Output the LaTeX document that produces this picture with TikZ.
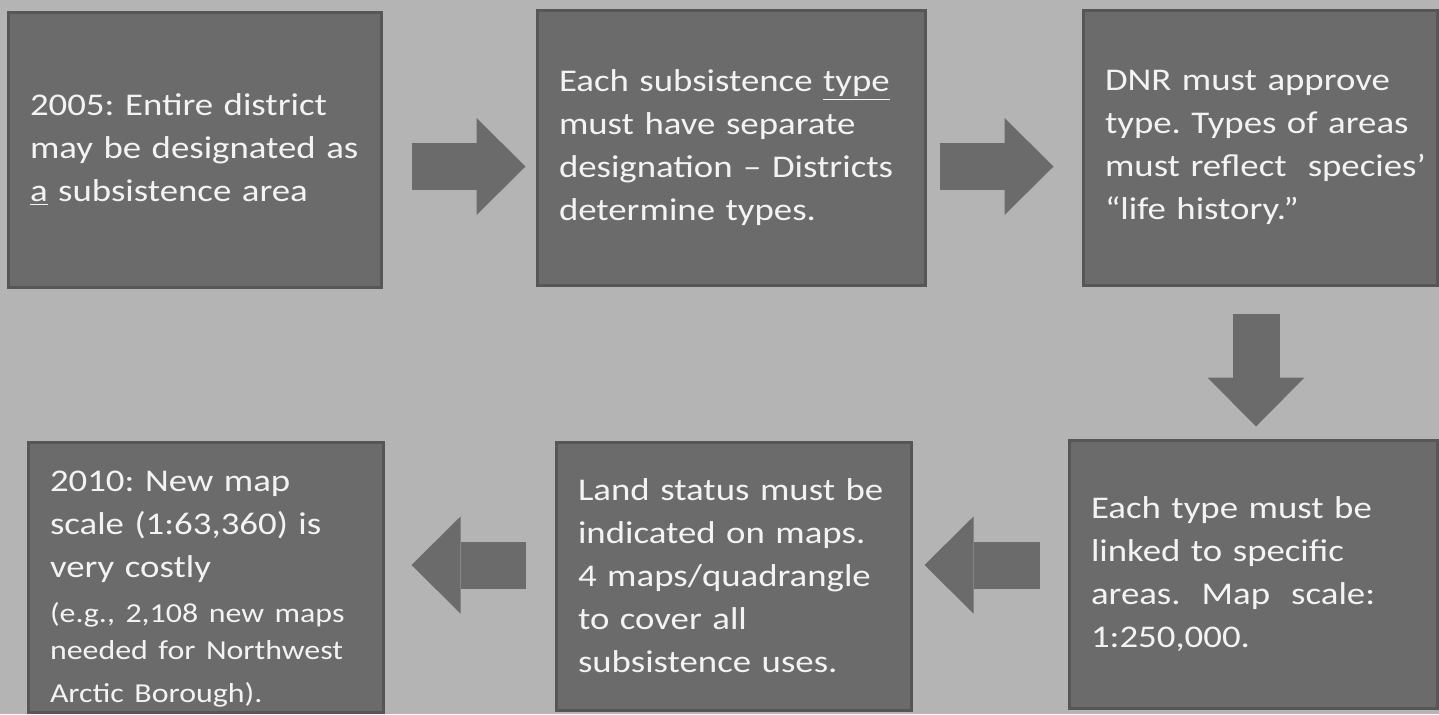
\documentclass[tikz,border=0pt]{standalone}
\usepackage{fontspec}
\setmainfont{Carlito}[FakeStretch=1.165]
\usetikzlibrary{arrows.meta}
\frenchspacing

\definecolor{bggray}{RGB}{180,180,180}
\definecolor{boxfill}{RGB}{107,107,107}
\definecolor{boxedge}{RGB}{86,86,86}
\definecolor{boxtext}{RGB}{243,243,243}

\newcommand{\bigtext}{\fontsize{15.8pt}{21.5pt}\selectfont}
\newcommand{\smalltext}{\fontsize{13.7pt}{18.5pt}\selectfont}

\tikzset{
  stepbox/.style 2 args={rectangle, draw=boxedge, line width=1.5pt, fill=boxfill,
    text=boxtext, font=\bigtext, inner sep=0pt, align=left,
    minimum width=#1, text width=#1, minimum height=#2,
    execute at begin node={\leftskip=11pt}},
  flowarrow/.style={draw=boxfill, line width=23.5pt,
    -{Triangle[length=24.5pt, width=48.5pt, line width=0pt]}}
}

\begin{document}
\begin{tikzpicture}[x=0.5pt,y=-0.5pt]
    % one unit = one pixel of the slide, y runs downwards
    \useasboundingbox (0,0) rectangle (1439,714);
    \fill[bggray] (0,0) rectangle (1439,714); % background

    % upper row
    \node[stepbox={186.5pt}{137.5pt}] (b1) at (194.5,149.5)
      {2005: Entire district\\may be designated as\\\underline{a} subsistence area};
    \node[stepbox={194pt}{137.5pt}] (b2) at (731,147.5)
      {Each subsistence \underline{type}\\must have separate\\designation – Districts\\determine types.};
    \node[stepbox={177pt}{137.5pt}] (b3) at (1260,147.5)
      {DNR must approve\\type. Types of areas\\must reflect\ \ species’\\“life history.”};

    % lower row
    \node[stepbox={184pt}{134pt}] (b6) at (1253,574)
      {Each type must be\\linked to specific\\areas.\ \ Map\ \ scale:\\1:250,000.};
    \node[stepbox={177.5pt}{134pt}] (b5) at (733.5,576)
      {Land status must be\\indicated on maps.\\4 maps/quadrangle\\to cover all\\subsistence uses.};
    \node[stepbox={177.5pt}{135pt}] (b4) at (205.5,577)
      {\rule{0pt}{22pt}2010: New map\\scale (1:63,360) is\\very costly\\[4pt]\smalltext (e.g., 2,108 new maps\\needed for Northwest\\Arctic Borough).};

    % block arrows
    \draw[flowarrow, shorten <=14.5pt, shorten >=5pt]
      ([shift={(0,17)}]b1.east) -- ([shift={(0,19)}]b2.west);
    \draw[flowarrow, shorten <=6.5pt, shorten >=14pt]
      ([shift={(0,19)}]b2.east) -- ([shift={(0,19)}]b3.west);
    \draw[flowarrow, shorten <=13.5pt, shorten >=6pt]
      ([shift={(-4,0)}]b3.south) -- ([shift={(3,0)}]b6.north);
    \draw[flowarrow, shorten <=14pt, shorten >=6pt]
      ([shift={(0,-9)}]b6.west) -- ([shift={(0,-11)}]b5.east);
    \draw[flowarrow, shorten <=14.5pt, shorten >=13.5pt]
      ([shift={(0,-11)}]b5.west) -- ([shift={(0,-12)}]b4.east);
\end{tikzpicture}
\end{document}
